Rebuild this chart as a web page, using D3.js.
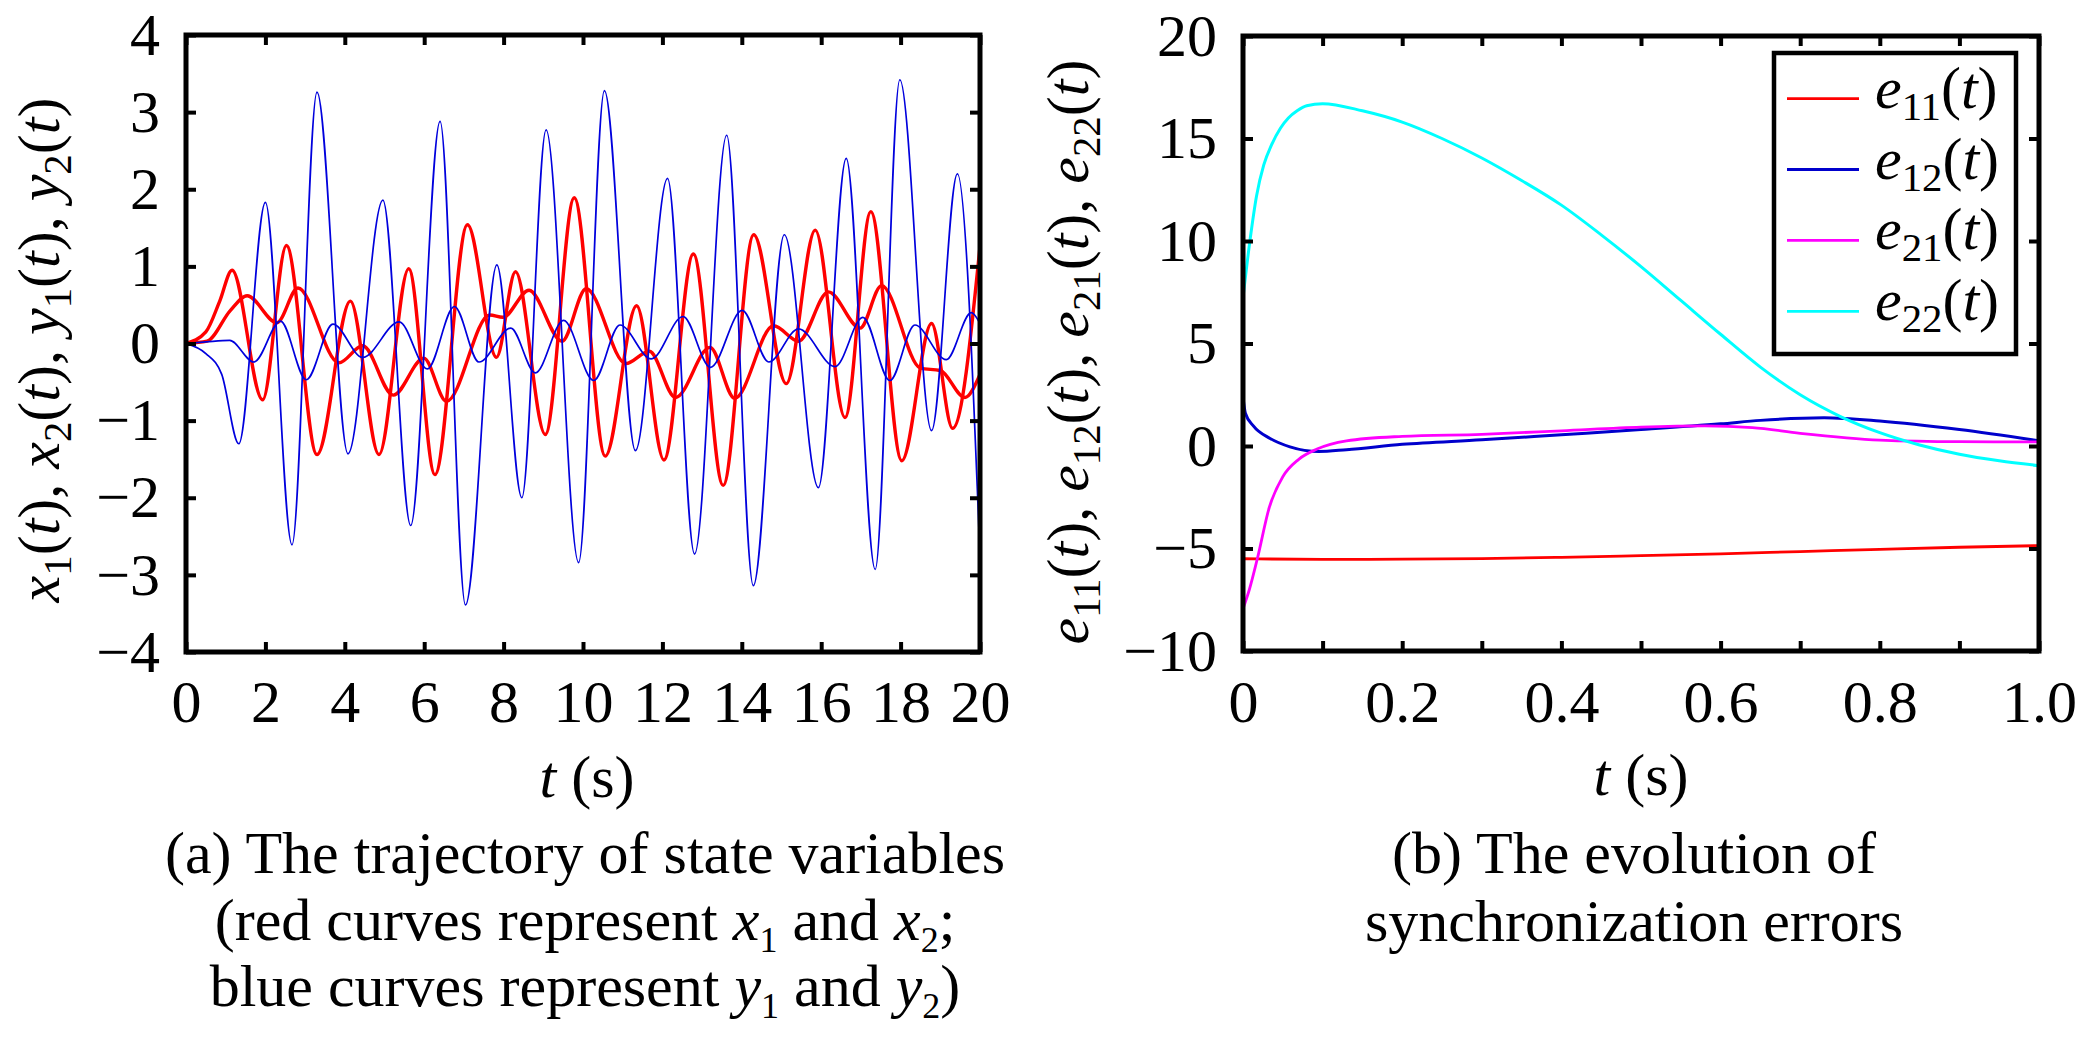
<!DOCTYPE html>
<html>
<head>
<meta charset="utf-8">
<script src="https://cdn.jsdelivr.net/npm/d3@7"></script>
<style>
  html, body { margin: 0; padding: 0; background: #fff; }
  svg text { font-family: "Liberation Serif", "Times New Roman", serif; white-space: pre; }
</style>
</head>
<body>
<div id="chart"></div>
<script>
// ---- panel (a) data: [t, value] turning points ----
const x1Points = [[0,0],[0.5,0.15],[0.85,0.55],[1.16,0.95],[1.93,-0.73],[2.53,1.27],[3.30,-1.44],[4.14,0.55],
  [4.86,-1.44],[5.61,0.97],[6.27,-1.70],[7.09,1.54],[7.82,-0.18],[8.30,0.93],[9.05,-1.18],[9.78,1.89],
  [10.56,-1.46],[11.35,0.49],[12.04,-1.51],[12.78,1.16],[13.53,-1.84],[14.30,1.41],[15.12,-0.52],
  [15.85,1.47],[16.60,-0.96],[17.25,1.71],[18.03,-1.52],[18.78,0.26],[19.31,-1.10],[20,1.26]];
const x2Points = [[0,0],[0.53,0.03],[1.12,0.43],[1.54,0.62],[2.29,0.27],[2.82,0.72],[3.85,-0.25],[4.45,-0.03],
  [5.22,-0.67],[5.99,-0.19],[6.56,-0.75],[7.65,0.37],[7.98,0.34],[8.64,0.69],[9.47,0.03],[10.08,0.71],
  [11.08,-0.26],[11.67,-0.10],[12.33,-0.70],[13.20,-0.05],[13.82,-0.71],[14.80,0.23],[15.43,0.03],
  [16.18,0.67],[16.98,0.20],[17.52,0.75],[18.50,-0.32],[19.00,-0.35],[19.62,-0.70],[20,-0.40]];
const y1Points = [[0,0],[0.5,-0.13],[0.9,-0.40],[1.33,-1.30],[2.00,1.83],[2.67,-2.61],[3.30,3.26],[4.08,-1.43],
  [4.96,1.86],[5.66,-2.36],[6.40,2.88],[7.04,-3.39],[7.83,1.02],[8.46,-2.00],[9.07,2.77],[9.89,-2.84],
  [10.54,3.28],[11.32,-1.39],[12.13,2.14],[12.81,-2.73],[13.62,2.70],[14.29,-3.14],[15.07,1.41],
  [15.93,-1.87],[16.63,2.40],[17.36,-2.93],[17.98,3.42],[18.78,-1.13],[19.43,2.20],[20,-2.76]];
const y2Points = [[0,0],[0.5,0.02],[1.10,0.04],[1.71,-0.24],[2.38,0.29],[3.03,-0.47],[3.70,0.25],[4.45,-0.18],
  [5.37,0.28],[6.08,-0.33],[6.76,0.48],[7.38,-0.24],[8.18,0.20],[8.80,-0.38],[9.51,0.30],[10.27,-0.48],
  [10.93,0.24],[11.72,-0.20],[12.52,0.35],[13.21,-0.31],[14.01,0.43],[14.68,-0.24],[15.43,0.19],
  [16.35,-0.30],[17.05,0.34],[17.73,-0.48],[18.36,0.24],[19.15,-0.21],[19.78,0.40],[20,0.26]];

// ---- panel (b) data: synchronization errors ----
const e11Points = [[0,-5.50],[0.1,-5.53],[0.2,-5.52],[0.3,-5.49],[0.4,-5.43],[0.5,-5.35],[0.6,-5.26],
  [0.7,-5.15],[0.8,-5.04],[0.9,-4.94],[1.0,-4.86]];
const e12Points = [[0,2.38],[0.003,1.6],[0.013,0.98],[0.034,0.37],[0.059,-0.04],[0.095,-0.27],[0.13,-0.18],
  [0.2,0.08],[0.3,0.3],[0.4,0.55],[0.5,0.8],[0.6,1.08],[0.65,1.25],[0.73,1.38],[0.8,1.22],[0.9,0.8],[1.0,0.25]];
const e21Points = [[0,-7.94],[0.008,-7.0],[0.018,-5.5],[0.033,-3.0],[0.05,-1.5],[0.07,-0.65],[0.093,-0.15],
  [0.13,0.25],[0.2,0.47],[0.3,0.57],[0.4,0.74],[0.5,0.92],[0.58,0.98],[0.64,0.9],[0.7,0.62],[0.8,0.29],
  [0.9,0.21],[1.0,0.2]];
const e22Points = [[0,7.24],[0.009,10.1],[0.017,12.2],[0.026,13.7],[0.036,14.7],[0.047,15.5],[0.057,16.0],
  [0.068,16.35],[0.08,16.6],[0.1,16.7],[0.15,16.35],[0.2,15.8],[0.25,15.0],[0.3,14.05],[0.35,12.95],
  [0.4,11.75],[0.45,10.3],[0.5,8.75],[0.55,7.1],[0.6,5.45],[0.65,3.85],[0.7,2.5],[0.75,1.45],[0.8,0.65],
  [0.85,0.05],[0.9,-0.4],[0.95,-0.72],[1.0,-0.96]];

// ---- ticks ----
const leftXTicks = [0,2,4,6,8,10,12,14,16,18,20];
const leftYTicks = [-4,-3,-2,-1,0,1,2,3,4];
const rightXTicks = [0,0.1,0.2,0.3,0.4,0.5,0.6,0.7,0.8,0.9,1.0];
const rightXLabelValues = [0,0.2,0.4,0.6,0.8,1.0];
const rightXLabelText = ["0","0.2","0.4","0.6","0.8","1.0"];
const rightYTicks = [-10,-5,0,5,10,15,20];

const width = 2079, height = 1038;
const FONT = 60;

const svg = d3.select("#chart")
  .append("svg")
    .attr("width", width)
    .attr("height", height)
    .attr("viewBox", `0 0 ${width} ${height}`);

// scales
const xL = d3.scaleLinear().domain([0, 20]).range([186, 980]);
const yL = d3.scaleLinear().domain([-4, 4]).range([652, 35]);
const xR = d3.scaleLinear().domain([0, 1]).range([1243, 2039]);
const yR = d3.scaleLinear().domain([-10, 20]).range([651, 36]);

// writes a label made of plain / italic / subscript pieces
function richText(textSel, parts, size) {
  let wasSub = false;
  parts.forEach(p => {
    const ts = textSel.append("tspan").text(p.s);
    if (p.it) ts.style("font-style", "italic");
    if (p.sub) {
      ts.attr("font-size", size * p.sub).attr("dy", size * 0.2);
      wasSub = true;
    } else if (wasSub) {
      ts.attr("dy", -size * 0.2);
      wasSub = false;
    }
  });
  return textSel;
}
const fn = (letter, idx, sub) => [{s: letter, it: true}, {s: idx, sub: sub || 0.68}, {s: "("}, {s: "t", it: true}, {s: ")"}];

function drawFrame(x, y, xTicks, yTicks, xFormat, padX) {
  const [x0, x1] = x.range(), [y0, y1] = y.range();
  const styleAxis = g => {
    g.select(".domain").remove();
    g.selectAll(".tick line").attr("stroke", "#000").attr("stroke-width", 4);
    g.selectAll("text").attr("font-size", FONT).attr("fill", "#000")
      .attr("font-family", "'Liberation Serif', 'Times New Roman', serif");
  };
  svg.append("g").attr("transform", `translate(0,${y0})`)
    .call(d3.axisBottom(x).tickValues(xTicks).tickSize(-10).tickSizeOuter(0).tickPadding(padX).tickFormat(xFormat))
    .call(styleAxis);
  svg.append("g").attr("transform", `translate(0,${y1})`)
    .call(d3.axisTop(x).tickValues(xTicks).tickSize(-10).tickSizeOuter(0).tickFormat(""))
    .call(styleAxis);
  svg.append("g").attr("transform", `translate(${x0},0)`)
    .call(d3.axisLeft(y).tickValues(yTicks).tickSize(-10).tickSizeOuter(0).tickPadding(26))
    .call(styleAxis);
  svg.append("g").attr("transform", `translate(${x1},0)`)
    .call(d3.axisRight(y).tickValues(yTicks).tickSize(-10).tickSizeOuter(0).tickFormat(""))
    .call(styleAxis);
  svg.append("rect")
    .attr("x", x0).attr("y", y1).attr("width", x1 - x0).attr("height", y0 - y1)
    .attr("fill", "none").attr("stroke", "#000").attr("stroke-width", 5);
}

function drawLines(x, y, series, clipId) {
  const [x0, x1] = x.range(), [y0, y1] = y.range();
  svg.append("clipPath").attr("id", clipId)
    .append("rect").attr("x", x0).attr("y", y1).attr("width", x1 - x0).attr("height", y0 - y1);
  const line = d3.line()
    .x(d => x(d[0]))
    .y(d => y(d[1]))
    .curve(d3.curveMonotoneX);
  svg.append("g").attr("clip-path", `url(#${clipId})`)
    .selectAll("path")
    .data(series)
    .join("path")
      .attr("d", d => line(d.points))
      .attr("fill", "none")
      .attr("stroke", d => d.color)
      .attr("stroke-width", d => d.width);
}

// ---- panel (a) ----
drawLines(xL, yL, [
  {points: x1Points, color: "#ff0000", width: 3.4},
  {points: x2Points, color: "#ff0000", width: 3.4},
  {points: y1Points, color: "#0000dd", width: 1.7},
  {points: y2Points, color: "#0000dd", width: 1.7}
], "clipA");
drawFrame(xL, yL, leftXTicks, leftYTicks, d3.format("d"), 27);

richText(svg.append("text")
    .attr("text-anchor", "middle")
    .attr("font-size", FONT)
    .attr("transform", "translate(59,350) rotate(-90)"),
  [...fn("x","1"), {s: ", "}, ...fn("x","2"), {s: ", "}, ...fn("y","1"), {s: ", "}, ...fn("y","2")], FONT);

richText(svg.append("text").attr("x", 587).attr("y", 797)
    .attr("text-anchor", "middle").attr("font-size", FONT),
  [{s: "t", it: true}, {s: " (s)"}], FONT);

const capA = [
  [{s: "(a) The trajectory of state variables"}],
  [{s: "(red curves represent "}, {s: "x", it: true}, {s: "1", sub: 0.6}, {s: " and "}, {s: "x", it: true}, {s: "2", sub: 0.6}, {s: ";"}],
  [{s: "blue curves represent "}, {s: "y", it: true}, {s: "1", sub: 0.6}, {s: " and "}, {s: "y", it: true}, {s: "2", sub: 0.6}, {s: ")"}]
];
capA.forEach((parts, i) => {
  richText(svg.append("text").attr("x", 585).attr("y", 873 + i * 66.5)
      .attr("text-anchor", "middle").attr("font-size", FONT), parts, FONT);
});

// ---- panel (b) ----
const errSeries = [
  {name: "11", points: e11Points, color: "#ff0000", width: 2.8},
  {name: "12", points: e12Points, color: "#0000cc", width: 3},
  {name: "21", points: e21Points, color: "#ff00ff", width: 2.8},
  {name: "22", points: e22Points, color: "#00ffff", width: 3}
];
drawLines(xR, yR, errSeries, "clipB");
drawFrame(xR, yR, rightXTicks, rightYTicks, d => {
  const i = rightXLabelValues.findIndex(v => Math.abs(v - d) < 1e-9);
  return i < 0 ? "" : rightXLabelText[i];
}, 28);

richText(svg.append("text")
    .attr("text-anchor", "middle")
    .attr("font-size", FONT)
    .attr("transform", "translate(1088,352) rotate(-90)"),
  [...fn("e","11"), {s: ", "}, ...fn("e","12"), {s: ", "}, ...fn("e","21"), {s: ", "}, ...fn("e","22")], FONT);

richText(svg.append("text").attr("x", 1641).attr("y", 795)
    .attr("text-anchor", "middle").attr("font-size", FONT),
  [{s: "t", it: true}, {s: " (s)"}], FONT);

["(b) The evolution of", "synchronization errors"].forEach((s, i) => {
  svg.append("text").attr("x", 1634).attr("y", 873 + i * 67.5)
    .attr("text-anchor", "middle").attr("font-size", FONT).text(s);
});

// legend
const legend = svg.append("g");
legend.append("rect")
  .attr("x", 1774).attr("y", 53).attr("width", 242).attr("height", 301)
  .attr("fill", "#fff").attr("stroke", "#000").attr("stroke-width", 4.5);
const rows = legend.selectAll(".row")
  .data(errSeries)
  .join("g")
    .attr("class", "row")
    .attr("transform", (d, i) => `translate(0,${98.6 + i * 70.9})`);
rows.append("line")
  .attr("x1", 1787).attr("x2", 1859)
  .attr("stroke", d => d.color).attr("stroke-width", 2.8);
rows.each(function(d) {
  richText(d3.select(this).append("text").attr("x", 1875).attr("y", 9).attr("font-size", FONT),
    fn("e", d.name), FONT);
});
</script>
</body>
</html>
